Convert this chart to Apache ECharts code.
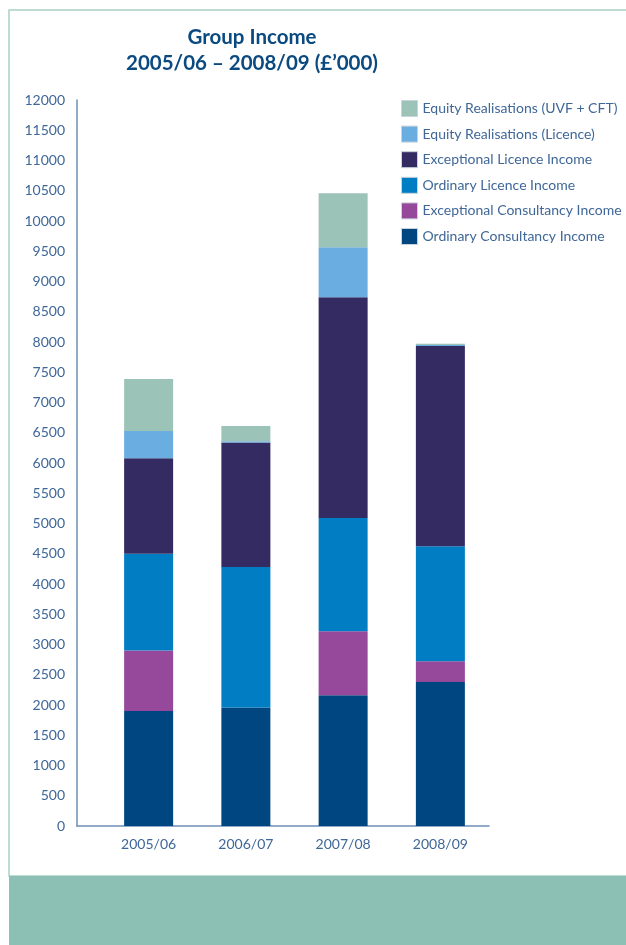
<!DOCTYPE html>
<html>
<head>
<meta charset="utf-8">
<title>Group Income</title>
<script src="https://cdn.jsdelivr.net/npm/echarts@6/dist/echarts.min.js"></script>
<style>
    html, body { margin: 0; padding: 0; background: #fff; }
    #chart { width: 626px; height: 945px; }
</style>
</head>
<body>
<div id="chart"></div>
<script>
// 年份
var years = ['2005/06', '2006/07', '2007/08', '2008/09'];
// 各项收入 (£'000), 从下往上堆叠
var ordinaryConsultancy = [1900, 1960, 2160, 2380];
var exceptionalConsultancy = [1000, 0, 1060, 345];
var ordinaryLicence = [1600, 2320, 1870, 1900];
var exceptionalLicence = [1580, 2060, 3650, 3310];
var equityLicence = [450, 20, 825, 15];
var equityUvf = [860, 250, 895, 20];
// y轴刻度
var yTicks = [0, 500, 1000, 1500, 2000, 2500, 3000, 3500, 4000, 4500, 5000, 5500, 6000,
    6500, 7000, 7500, 8000, 8500, 9000, 9500, 10000, 10500, 11000, 11500, 12000];

var labelColor = '#3f6798';
var fontName = 'Lato';

var seriesList = [
    { name: 'Ordinary Consultancy Income', data: ordinaryConsultancy, color: '#004680' },
    { name: 'Exceptional Consultancy Income', data: exceptionalConsultancy, color: '#96489b' },
    { name: 'Ordinary Licence Income', data: ordinaryLicence, color: '#007dc3' },
    { name: 'Exceptional Licence Income', data: exceptionalLicence, color: '#342b63' },
    { name: 'Equity Realisations (Licence)', data: equityLicence, color: '#6aade0' },
    { name: 'Equity Realisations (UVF + CFT)', data: equityUvf, color: '#9bc3b8' }
];

var series = seriesList.map(function(s) {
    return {
        name: s.name,
        type: 'bar',
        stack: 'income',
        xAxisIndex: 0,
        yAxisIndex: 0,
        barWidth: 49,
        data: s.data,
        itemStyle: { color: s.color }
    };
});

var myChart = echarts.init(document.getElementById('chart'));
var option = {
    backgroundColor: '#ffffff',
    animation: false,
    title: {
        text: 'Group Income\n2005/06 \u2013 2008/09 (\u00a3\u2019000)',
        left: 247,
        top: 19,
        textAlign: 'center',
        textStyle: {
            fontFamily: fontName,
            fontWeight: 'bold',
            fontSize: 20.5,
            lineHeight: 26,
            color: '#0b4a80'
        }
    },
    legend: {
        orient: 'vertical',
        left: 396,
        top: 95,
        icon: 'rect',
        itemWidth: 16,
        itemHeight: 16,
        itemGap: 8.6,
        selectedMode: false,
        data: seriesList.slice().reverse().map(function(s) {
            return { name: s.name, itemStyle: { borderColor: '#c9d3dc', borderWidth: 1 } };
        }),
        textStyle: {
            fontFamily: fontName,
            fontSize: 14,
            lineHeight: 16,
            color: labelColor
        }
    },
    grid: [
        { left: 100, width: 389, top: 100, height: 726 },
        { left: 77, width: 412, top: 100, height: 726 }
    ],
    xAxis: [
        {
            type: 'category',
            gridIndex: 0,
            data: years,
            axisLine: { show: false },
            axisTick: { show: false },
            axisLabel: {
                fontFamily: fontName,
                fontSize: 14,
                color: labelColor,
                margin: 11
            }
        },
        {
            type: 'category',
            gridIndex: 1,
            data: years,
            axisLine: { lineStyle: { color: '#6d8fb7', width: 1.5 } },
            axisTick: { show: false },
            axisLabel: { show: false }
        }
    ],
    yAxis: [
        {
            type: 'value',
            gridIndex: 0,
            min: yTicks[0],
            max: yTicks[yTicks.length - 1],
            interval: 500,
            show: false
        },
        {
            type: 'value',
            gridIndex: 1,
            min: yTicks[0],
            max: yTicks[yTicks.length - 1],
            interval: 500,
            splitLine: { show: false },
            axisTick: { show: false },
            axisLine: { show: true, lineStyle: { color: '#6d8fb7', width: 1.5 } },
            axisLabel: {
                fontFamily: fontName,
                fontSize: 14,
                color: labelColor,
                margin: 12,
                formatter: function(v) { return String(v); }
            }
        }
    ],
    graphic: [
        {
            type: 'rect',
            z: -1,
            shape: { x: 9, y: 10, width: 640, height: 866 },
            style: { fill: 'none', stroke: '#a7d2c6', lineWidth: 1.5 }
        },
        {
            type: 'rect',
            z: -1,
            shape: { x: 9, y: 876, width: 617, height: 69 },
            style: { fill: '#8cc0b4' }
        }
    ],
    series: series
};
myChart.setOption(option);
</script>
</body>
</html>
